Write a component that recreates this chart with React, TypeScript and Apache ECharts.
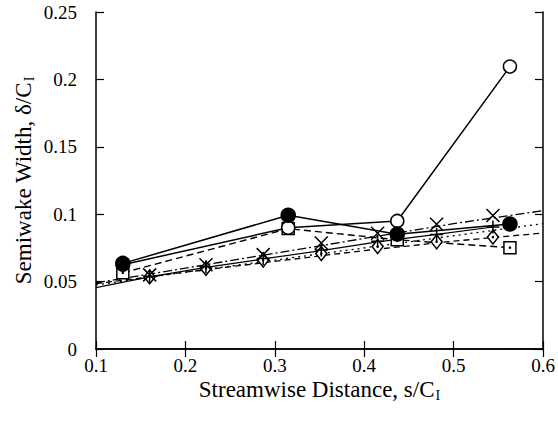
import React, { useEffect, useRef } from "react";
import * as echarts from "echarts";

// Measured points
const circleX = [0.13, 0.315, 0.437, 0.563];
const filledCircleY = [0.0635, 0.0992, 0.0852, 0.0927];
const openCircleY = [0.0625, 0.0900, 0.0950, 0.2095];
const squareY = [0.0565, 0.0893, 0.0810, 0.0752];

const stationX = [0.16, 0.223, 0.287, 0.352, 0.415, 0.481, 0.544];
const crossY = [0.0550, 0.0625, 0.0700, 0.0786, 0.0858, 0.0925, 0.0990];
const plusY = [0.0540, 0.0610, 0.0672, 0.0735, 0.0800, 0.0850, 0.0905];
const diamondY = [0.0535, 0.0598, 0.0660, 0.0708, 0.0760, 0.0795, 0.0830];

// Model curves
const fitX = [0.1, 0.2, 0.3, 0.4, 0.5, 0.6];
const dashDotFit = [0.0490, 0.0600, 0.0710, 0.0820, 0.0930, 0.1026];
const dottedFit = [0.0475, 0.0570, 0.0660, 0.0750, 0.0840, 0.0930];
const dashedFit = [0.0485, 0.0570, 0.0650, 0.0730, 0.0800, 0.0860];
const solidFitX = [0.1, 0.16, 0.223, 0.287, 0.352, 0.415, 0.481, 0.544];
const solidFit = [0.0455, 0.0535, 0.0605, 0.0668, 0.0730, 0.0795, 0.0850, 0.0905];

const xTicks = [0.1, 0.6, 0.1];
const yTicks = [0, 0.25, 0.05];

const pair = (xs: number[], ys: number[]) => xs.map((x, i) => [x, ys[i]]);

const FONT = "Liberation Serif";

export default function App() {
  const ref = useRef<HTMLDivElement>(null);
  useEffect(() => {
    if (!ref.current) return;
    document.body.style.margin = "0";
    const chart = echarts.init(ref.current, null, { renderer: "svg" });
    const axisCommon = {
      axisLine: { show: true, lineStyle: { color: "#000", width: 1.5 } },
      axisTick: { show: true, inside: true, length: 8, lineStyle: { color: "#000", width: 1.2 } },
      splitLine: { show: false },
    };
    const fmt = (v: number) => String(+v.toFixed(2));
    const line = (data: number[][], type: any, width = 1.3, z = 2) => ({
      type: "line",
      data,
      showSymbol: false,
      symbol: "none",
      lineStyle: { color: "#000", width, type },
      z,
      silent: true,
    });
    const scatter = (data: number[][], symbol: string, size: any, fill: string, z = 5, bw = 1.5) => ({
      type: "scatter",
      data,
      symbol,
      symbolSize: size,
      itemStyle: { color: fill, borderColor: "#000", borderWidth: bw, opacity: 1 },
      z,
      silent: true,
    });
    const nameRich = {
      a: { fontFamily: FONT, fontSize: 23, color: "#000" },
      s: { fontFamily: FONT, fontSize: 14, color: "#000", verticalAlign: "bottom", padding: [11, 0, 0, 1] },
    };
    chart.setOption({
      animation: false,
      backgroundColor: "#fff",
      grid: { left: 96, right: 15, top: 12, bottom: 74 },
      xAxis: [
        {
          type: "value",
          min: xTicks[0],
          max: xTicks[1],
          interval: xTicks[2],
          position: "bottom",
          ...axisCommon,
          axisLabel: { color: "#000", fontFamily: FONT, fontSize: 19, margin: 7, formatter: fmt },
          name: "{a|Streamwise Distance, s/C}{s|I}",
          nameLocation: "middle",
          nameGap: 28,
          nameMoveOverlap: false,
          nameTextStyle: { rich: nameRich },
        },
        {
          type: "value",
          min: xTicks[0],
          max: xTicks[1],
          interval: xTicks[2],
          position: "top",
          ...axisCommon,
          axisLabel: { show: false },
        },
      ],
      yAxis: [
        {
          type: "value",
          min: yTicks[0],
          max: yTicks[1],
          interval: yTicks[2],
          position: "left",
          ...axisCommon,
          axisLabel: { color: "#000", fontFamily: FONT, fontSize: 19, margin: 19, formatter: fmt },
          name: "{a|Semiwake Width, δ/C}{s|I}",
          nameLocation: "middle",
          nameRotate: 90,
          nameGap: 60,
          nameMoveOverlap: false,
          nameTextStyle: { rich: nameRich },
        },
        {
          type: "value",
          min: yTicks[0],
          max: yTicks[1],
          interval: yTicks[2],
          position: "right",
          ...axisCommon,
          axisLabel: { show: false },
        },
      ],
      series: [
        line(pair(fitX, dashDotFit), [9, 3, 2, 3]),
        line(pair(fitX, dottedFit), [2, 4]),
        line(pair(fitX, dashedFit), [6, 4]),
        line(pair(solidFitX, solidFit), "solid", 1.2),
        line(pair(circleX, squareY), [7, 4], 1.4),
        line(pair(circleX, openCircleY), "solid", 1.5),
        line(pair(circleX, filledCircleY), "solid", 1.5),
        scatter(pair(stationX, diamondY), "diamond", [11, 14], "#fff", 5),
        scatter(pair(stationX, diamondY), "circle", 2.5, "#000", 6, 0),
        scatter(pair(stationX, plusY), "path://M5,0L5,10M0,5L10,5", 13, "none", 7),
        scatter(pair(stationX, crossY), "path://M0,0L10,10M10,0L0,10", 13, "none", 7),
        scatter(pair(circleX, squareY), "rect", 12, "#fff", 5),
        scatter(pair(circleX, squareY), "circle", 2.5, "#000", 6, 0),
        scatter(pair(circleX, openCircleY), "circle", 13, "#fff", 8),
        scatter(pair(circleX, filledCircleY), "circle", 14, "#000", 9),
      ],
    });
    return () => chart.dispose();
  }, []);
  return <div ref={ref} style={{ width: 558, height: 423 }} />;
}
